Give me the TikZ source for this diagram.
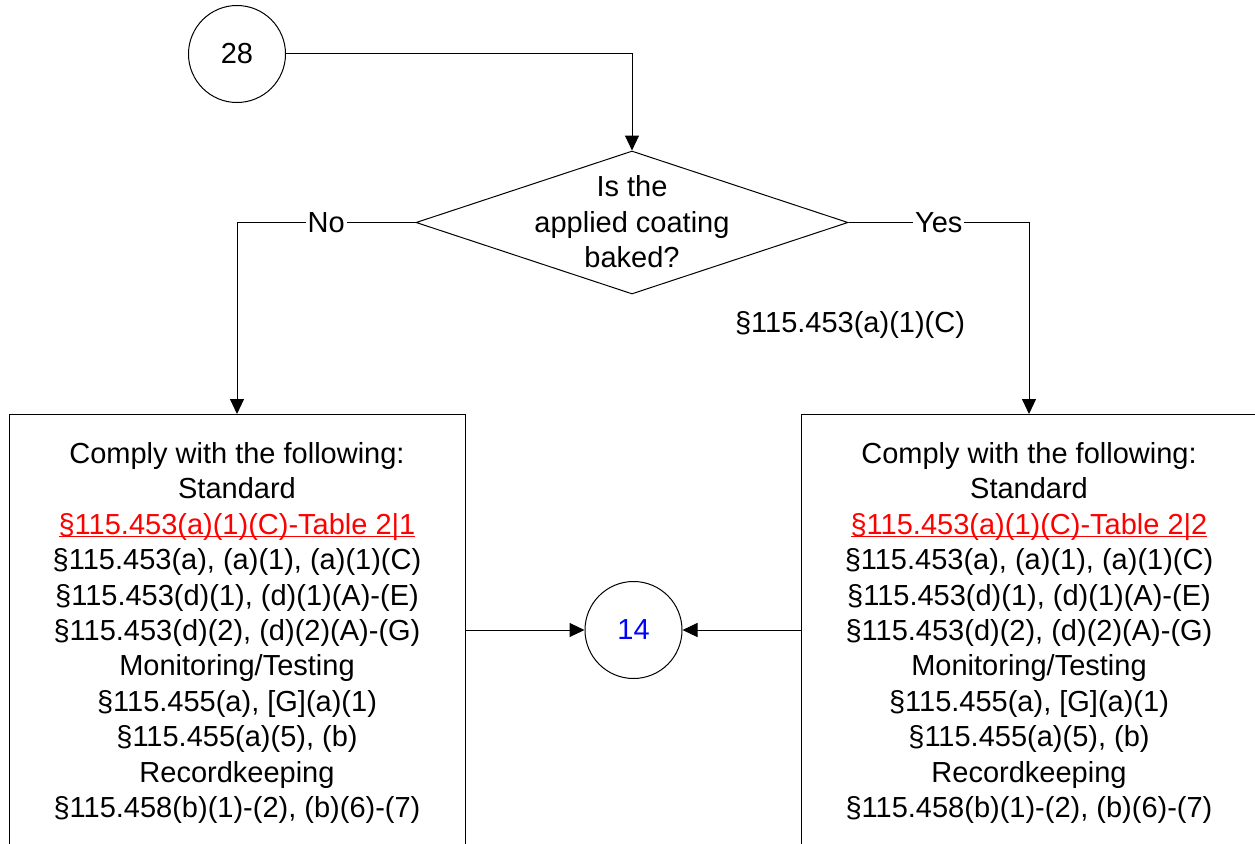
\documentclass[tikz,border=0pt]{standalone}
\usepackage{fontspec}
\setmainfont{Liberation Sans}
\usetikzlibrary{shapes.geometric,arrows.meta}
\newcommand\myul[1]{\setbox0\hbox{#1}\rlap{\rule[-3pt]{\wd0}{1.6pt}}\box0}
\begin{document}
\begin{tikzpicture}[x=1pt,y=-1pt,line width=1pt,
  every node/.style={font=\fontsize{29}{35.4}\selectfont},
  arr/.style={draw=black,-{Triangle[length=15pt,width=14pt]}},
  plain/.style={draw=black},
  bubble/.style={circle,draw,minimum size=97pt,inner sep=0pt},
  decision/.style={diamond,draw,minimum width=432pt,minimum height=143pt,inner sep=0pt},
  rulebox/.style={draw,anchor=north,minimum width=456pt,align=center,inner xsep=5pt,inner ysep=28pt},
  lbl/.style={fill=white,inner sep=2pt},
  redtxt/.style={}]
\useasboundingbox (0,0) rectangle (1255,843);
\clip (0,0) rectangle (1255,843);

\node[bubble] (c28) at (237,54) {28};
\node[decision] (q) at (632,222.5) {};
\node[align=center,inner sep=0pt] (qt) at (632,222) {Is the\\applied coating\\baked?};
\node[inner sep=0pt] (ref) at (850,325) {§115.453(a)(1)(C)};

\node[rulebox] (boxL) at (237,414) {Comply with the following:\\Standard\\
{\color{red}\myul{§115.453(a)(1)(C)-Table 2|1}}\\
§115.453(a), (a)(1), (a)(1)(C)\\
§115.453(d)(1), (d)(1)(A)-(E)\\
§115.453(d)(2), (d)(2)(A)-(G)\\
Monitoring/Testing\\
§115.455(a), [G](a)(1)\\
§115.455(a)(5), (b)\\
Recordkeeping\\
§115.458(b)(1)-(2), (b)(6)-(7)};

\node[rulebox] (boxR) at (1029,414) {Comply with the following:\\Standard\\
{\color{red}\myul{§115.453(a)(1)(C)-Table 2|2}}\\
§115.453(a), (a)(1), (a)(1)(C)\\
§115.453(d)(1), (d)(1)(A)-(E)\\
§115.453(d)(2), (d)(2)(A)-(G)\\
Monitoring/Testing\\
§115.455(a), [G](a)(1)\\
§115.455(a)(5), (b)\\
Recordkeeping\\
§115.458(b)(1)-(2), (b)(6)-(7)};

\node[bubble,text=blue] (c14) at (633.5,630) {14};

\draw[arr] (c28) -| (q.north);
\draw[arr] (q.west) -| node[lbl,pos=0.25] (no) {No} (boxL.north);
\draw[arr] (q.east) -| node[lbl,pos=0.25] (yes) {Yes} (boxR.north);
\draw[arr] (boxL.east |- c14.west) -- (c14.west);
\draw[arr] (boxR.west |- c14.east) -- (c14.east);
\end{tikzpicture}
\end{document}
